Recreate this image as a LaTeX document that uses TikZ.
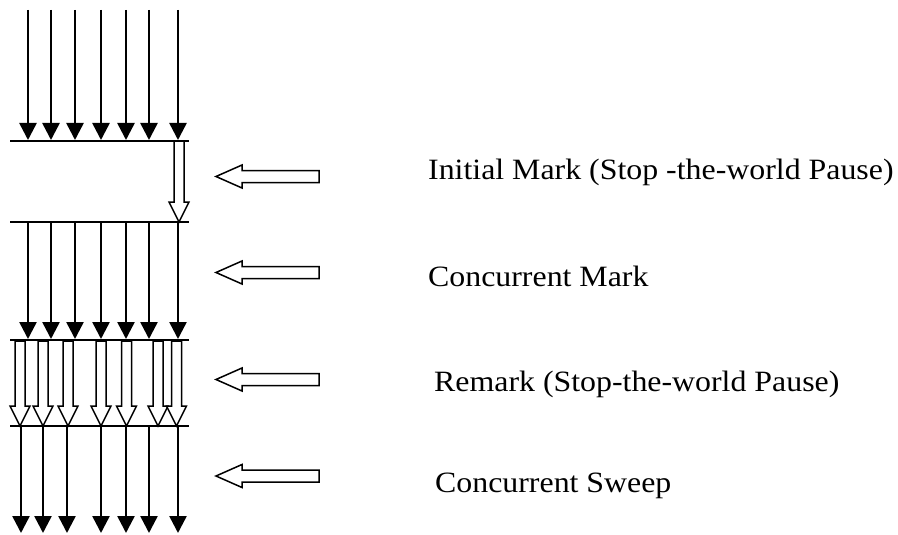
\documentclass[tikz,border=0pt]{standalone}
\usepackage{fontspec}
\setmainfont{Liberation Serif}[FakeStretch=1.08]
\usetikzlibrary{arrows.meta}

\tikzset{
  flow/.style={line width=2.5pt, -{Triangle[width=17pt,length=17pt]}},
  phase/.style={line width=1.5pt},
  blockarrow/.style={draw, fill=white, line width=1.5pt, line join=miter},
  label/.style={anchor=base west, inner sep=0pt, font=\fontsize{29.5}{34}\selectfont}
}

% hollow block arrow pointing down: x, top y, tip y
\newcommand\hollowdown[3]{%
  \draw[blockarrow] (#1-5,#2) -- (#1-5,#3-20) -- (#1-10,#3-20) -- (#1,#3)
    -- (#1+10,#3-20) -- (#1+5,#3-20) -- (#1+5,#2) -- cycle;}
% hollow block arrow pointing left: tip x, centre y
\newcommand\hollowleft[2]{%
  \draw[blockarrow] (#1,#2) -- (#1+26,#2-11.5) -- (#1+26,#2-6) -- (#1+103,#2-6)
    -- (#1+103,#2+6) -- (#1+26,#2+6) -- (#1+26,#2+11.5) -- cycle;}

\begin{document}
\begin{tikzpicture}[x=1pt, y=-1pt]
\useasboundingbox (0,0) rectangle (898,535);

% phase boundaries
\foreach \n/\y in {a/141, b/222, c/340, d/426} {
  \coordinate (\n l) at (10,\y);
  \coordinate (\n r) at (189,\y);
  \draw[phase] (\n l) -- (\n r);
}

% application threads before the initial mark
\foreach \x [count=\i] in {28,51,75,101,126,149,178} {
  \coordinate (t\i) at (\x,10);
  \coordinate (u\i) at (\x,140);
  \draw[flow] (t\i) -- (u\i);
}

% single marking thread
\hollowdown{179}{141}{222}

% application threads during concurrent mark
\foreach \x [count=\i] in {28,51,75,101,126,149,178} {
  \coordinate (m\i) at (\x,222);
  \coordinate (n\i) at (\x,339);
  \draw[flow] (m\i) -- (n\i);
}

% parallel remark threads
\foreach \x in {20,43,68,101,126.5,158,176.5} {
  \hollowdown{\x}{341}{426}
}

% application threads during concurrent sweep
\foreach \x [count=\i] in {21,43,67,101,126,149,178} {
  \coordinate (s\i) at (\x,426);
  \coordinate (e\i) at (\x,533);
  \draw[flow] (s\i) -- (e\i);
}

% phase pointers
\hollowleft{216}{176.5}
\hollowleft{216}{272.5}
\hollowleft{216}{379.5}
\hollowleft{216}{476}

% phase names
\node[label] (initial) at (428,179) {Initial Mark (Stop -the-world Pause)};
\node[label] (cmark) at (428,286) {Concurrent Mark};
\node[label] (remark) at (434,391) {Remark (Stop-the-world Pause)};
\node[label] (sweep) at (435,492) {Concurrent Sweep};
\end{tikzpicture}
\end{document}
